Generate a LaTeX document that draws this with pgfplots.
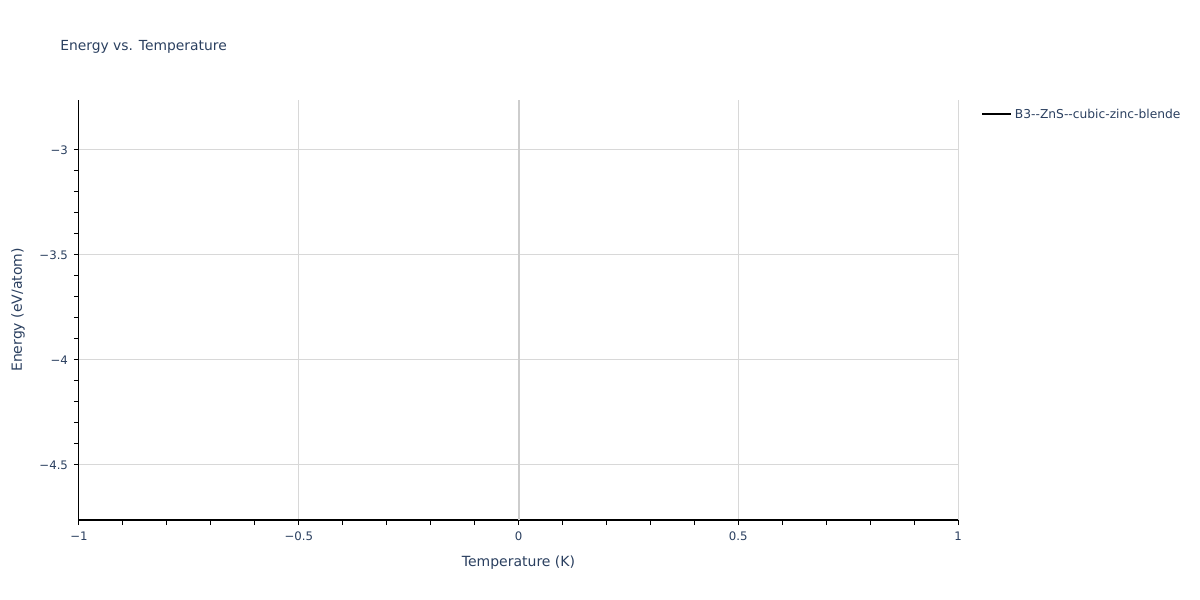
\documentclass[border=0pt]{standalone}
\usepackage{fontspec}
\setmainfont{DejaVu Sans}
\usepackage{pgfplots}
\pgfplotsset{compat=1.18}
\definecolor{plotlytext}{HTML}{2A3F5F}
\definecolor{gridc}{RGB}{216,216,216}
\definecolor{zeroc}{RGB}{205,205,205}

\begin{document}
\begin{tikzpicture}[x=0.75pt,y=0.75pt]
\path[use as bounding box] (0,0) rectangle (1200,600);
\node[anchor=west, text=plotlytext, font=\fontsize{10.4}{12}\selectfont, inner sep=0pt] at (60,553.5) {Energy vs. Temperature};
\begin{axis}[
  at={(59.25pt,60pt)}, anchor=south west,
  scale only axis, width=659.25pt, height=315pt,
  xmin=-1, xmax=1, ymin=-4.762, ymax=-2.762,
  axis x line*=bottom, axis y line*=left,
  axis line style={-, black, line width=0.75pt},
  xtick={-1,-0.5,0,0.5,1},
  xticklabels={−1,−0.5,0,0.5,1},
  ytick={-4.5,-4,-3.5,-3},
  yticklabels={−4.5,−4,−3.5,−3},
  minor x tick num=4, minor y tick num=4,
  tick align=outside,
  major tick length=3.75pt, minor tick length=3.75pt,
  every tick/.style={black, line width=0.75pt},
  xmajorgrids, ymajorgrids,
  major grid style={gridc, line width=0.75pt},
  tick label style={text=plotlytext, font=\fontsize{8.8}{10}\selectfont},
  xticklabel style={yshift=-1.6pt},
  yticklabel style={xshift=-1pt},
  xlabel={Temperature (K)},
  ylabel={Energy (eV/atom)},
  label style={text=plotlytext, font=\fontsize{10.5}{12}\selectfont},
  xlabel style={at={(axis description cs:0.5,-0.1024)}, anchor=center},
  ylabel style={at={(axis description cs:-0.0694,0.5)}, anchor=center},
  legend style={at={(axis description cs:1.0262,0.9655)}, anchor=west,
    draw=none, fill=none, inner sep=0pt, text=plotlytext,
    font=\fontsize{9.2}{11}\selectfont},
  legend cell align=left,
  legend image code/.code={\draw[#1] (0pt,0pt) -- (21.75pt,0pt);},
  clip=false,
]
\draw[zeroc, line width=1.5pt] (axis cs:0,-4.762) -- (axis cs:0,-2.762);
\addplot[black, line width=1.5pt] coordinates {(0,-3.762)};
\addlegendentry{B3-{}-ZnS-{}-cubic-zinc-blende}
\end{axis}
\end{tikzpicture}
\end{document}
